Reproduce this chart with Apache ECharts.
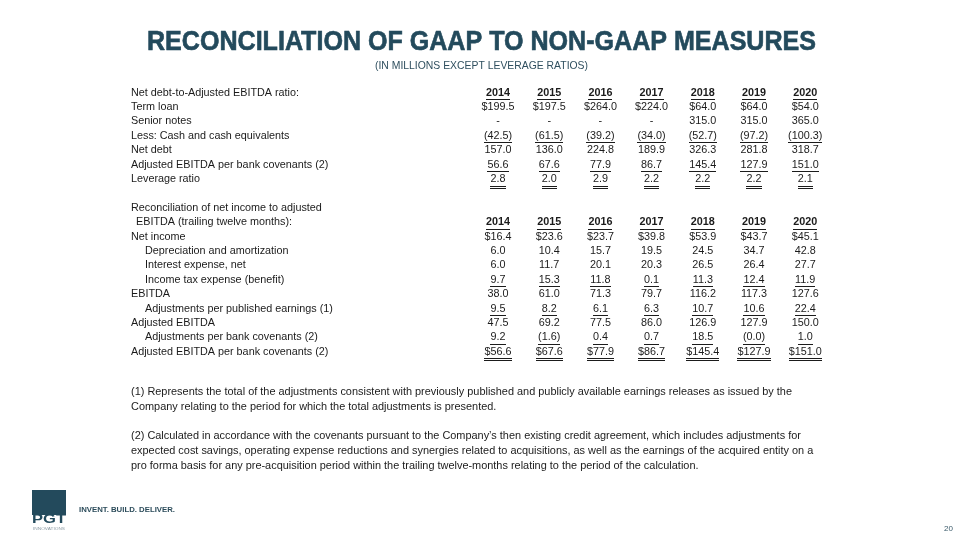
<!DOCTYPE html>
<html><head><meta charset="utf-8">
<script src="https://cdn.jsdelivr.net/npm/echarts@6/dist/echarts.min.js"></script>
<style>html,body{margin:0;padding:0;background:#fff}#c{width:960px;height:540px}</style>
</head><body><div id="c"></div>
<script>
// ---------------- DATA ----------------
const years = ['2014', '2015', '2016', '2017', '2018', '2019', '2020'];

const rowLabels = [
  'Net debt-to-Adjusted EBITDA ratio:',
  'Term loan',
  'Senior notes',
  'Less: Cash and cash equivalents',
  'Net debt',
  'Adjusted EBITDA per bank covenants (2)',
  'Leverage ratio',
  '',
  'Reconciliation of net income to adjusted',
  'EBITDA (trailing twelve months):',
  'Net income',
  'Depreciation and amortization',
  'Interest expense, net',
  'Income tax expense (benefit)',
  'EBITDA',
  'Adjustments per published earnings (1)',
  'Adjusted EBITDA',
  'Adjustments per bank covenants (2)',
  'Adjusted EBITDA per bank covenants (2)'
];

const termLoan        = [199.5, 197.5, 264.0, 224.0, 64.0, 64.0, 54.0];
const seniorNotes     = [null, null, null, null, 315.0, 315.0, 365.0];
const cashEquivalents = [-42.5, -61.5, -39.2, -34.0, -52.7, -97.2, -100.3];
const netDebt         = [157.0, 136.0, 224.8, 189.9, 326.3, 281.8, 318.7];
const adjEbitdaBank   = [56.6, 67.6, 77.9, 86.7, 145.4, 127.9, 151.0];
const leverageRatio   = [2.8, 2.0, 2.9, 2.2, 2.2, 2.2, 2.1];

const netIncome       = [16.4, 23.6, 23.7, 39.8, 53.9, 43.7, 45.1];
const depreciation    = [6.0, 10.4, 15.7, 19.5, 24.5, 34.7, 42.8];
const interestExpense = [6.0, 11.7, 20.1, 20.3, 26.5, 26.4, 27.7];
const incomeTax       = [9.7, 15.3, 11.8, 0.1, 11.3, 12.4, 11.9];
const ebitda          = [38.0, 61.0, 71.3, 79.7, 116.2, 117.3, 127.6];
const adjPublished    = [9.5, 8.2, 6.1, 6.3, 10.7, 10.6, 22.4];
const adjEbitda       = [47.5, 69.2, 77.5, 86.0, 126.9, 127.9, 150.0];
const adjBank         = [9.2, -1.6, 0.4, 0.7, 18.5, -0.0, 1.0];
const adjEbitdaBankTotal = [56.6, 67.6, 77.9, 86.7, 145.4, 127.9, 151.0];

const footnotes = [
  '(1) Represents the total of the adjustments consistent with previously published and publicly available earnings releases as issued by the',
  'Company relating to the period for which the total adjustments is presented.',
  '(2) Calculated in accordance with the covenants pursuant to the Company\u2019s then existing credit agreement, which includes adjustments for',
  'expected cost savings, operating expense reductions and synergies related to acquisitions, as well as the earnings of the acquired entity on a',
  'pro forma basis for any pre-acquisition period within the trailing twelve-months relating to the period of the calculation.'
];

// ---------------- ROW SETUP (row index -> series + formatting) ----------------
// u: underline count, d: dollar sign
const tableRows = [
  { row: 0,  header: true },
  { row: 1,  values: termLoan, d: true },
  { row: 2,  values: seniorNotes },
  { row: 3,  values: cashEquivalents, u: 1 },
  { row: 4,  values: netDebt },
  { row: 5,  values: adjEbitdaBank, u: 1 },
  { row: 6,  values: leverageRatio, u: 2 },
  { row: 9,  header: true },
  { row: 10, values: netIncome, d: true },
  { row: 11, values: depreciation },
  { row: 12, values: interestExpense },
  { row: 13, values: incomeTax, u: 1 },
  { row: 14, values: ebitda },
  { row: 15, values: adjPublished, u: 1 },
  { row: 16, values: adjEbitda },
  { row: 17, values: adjBank, u: 1 },
  { row: 18, values: adjEbitdaBankTotal, d: true, u: 2 }
];
const labelIndent = { 9: 5, 11: 14, 12: 14, 13: 14, 15: 14, 17: 14 };

// ---------------- HELPERS ----------------
const FONT = '"Liberation Sans", Arial, sans-serif';
const INK = '#1b1b1b';
const TEAL = '#234a5c';
const cv = document.createElement('canvas').getContext('2d');
function measure(text, size, weight) {
  cv.font = (weight || 'normal') + ' ' + size + 'px ' + FONT;
  return cv.measureText(text).width;
}
function fmt(v, dollar) {
  if (v === null || v === undefined) return '-';
  const neg = v < 0 || Object.is(v, -0);
  let s = Math.abs(v).toFixed(1);
  if (dollar) s = '$' + s;
  return neg ? '(' + s + ')' : s;
}

// table font size fitted to the reference label width
const FS = Math.round(11 * 198 / measure('Adjusted EBITDA per bank covenants (2)', 11) * 10) / 10;

const cells = [];
tableRows.forEach(r => {
  years.forEach((y, i) => {
    if (r.header) cells.push({ value: [i, r.row], text: y, bold: true, u: 1 });
    else cells.push({ value: [i, r.row], text: fmt(r.values[i], r.d), bold: false, u: r.u || 0 });
  });
});

// ---------------- CHART ----------------
const chart = echarts.init(document.getElementById('c'), null, { renderer: 'canvas' });

const gridLeft = 472.4, colW = 51.2, gridTop = 85.5, rowH = 14.4;
const labelX = 131;

function scaledText(text, x, y, size, weight, target, fill, align, stroke) {
  const w = measure(text, size, weight);
  const st = { text: text, fontSize: size, fontWeight: weight, fontFamily: FONT, fill: fill,
               align: align, verticalAlign: 'middle' };
  if (stroke) { st.stroke = fill; st.lineWidth = stroke; }
  return { type: 'text', x: x, y: y, scaleX: target / w, scaleY: 1, style: st };
}
const fnScale = 661 / measure(footnotes[0], 11, 'normal');
const fnY = [392, 407, 436, 451, 465.5];
const footGraphics = footnotes.map((t, i) => ({
  type: 'text', x: labelX, y: fnY[i], scaleX: fnScale, scaleY: 1,
  style: { text: t, fontSize: 11, fontFamily: FONT, fill: INK, align: 'left', verticalAlign: 'middle' }
}));

const option = {
  animation: false,
  backgroundColor: '#ffffff',
  grid: { left: gridLeft, top: gridTop, width: colW * years.length, height: rowH * rowLabels.length },
  xAxis: {
    type: 'category', data: years, boundaryGap: true,
    axisLine: { show: false }, axisTick: { show: false }, axisLabel: { show: false }, splitLine: { show: false }
  },
  yAxis: {
    type: 'category', inverse: true, boundaryGap: true,
    data: rowLabels.map((_, i) => String(i)),
    axisLine: { show: false }, axisTick: { show: false }, splitLine: { show: false },
    axisLabel: {
      show: true, interval: 0, align: 'left', margin: gridLeft - labelX,
      formatter: (v, idx) => {
        const t = rowLabels[idx];
        if (!t) return '';
        const ind = labelIndent[idx];
        return ind === 14 ? '{b|' + t + '}' : ind === 5 ? '{c|' + t + '}' : '{a|' + t + '}';
      },
      rich: {
        a: { fontSize: FS, fontFamily: FONT, color: INK },
        b: { fontSize: FS, fontFamily: FONT, color: INK, padding: [0, 0, 0, 14] },
        c: { fontSize: FS, fontFamily: FONT, color: INK, padding: [0, 0, 0, 5] }
      }
    }
  },
  series: [{
    type: 'custom',
    coordinateSystem: 'cartesian2d',
    encode: { x: 0, y: 1 },
    data: cells,
    renderItem: (params, api) => {
      const c = cells[params.dataIndex];
      const p = api.coord([api.value(0), api.value(1)]);
      const weight = c.bold ? 'bold' : 'normal';
      const w = measure(c.text, FS, weight);
      const kids = [{
        type: 'text', x: p[0], y: p[1],
        style: { text: c.text, fontSize: FS, fontWeight: weight, fontFamily: FONT, fill: INK,
                 align: 'center', verticalAlign: 'middle' }
      }];
      const x1 = Math.round(p[0] - w / 2), x2 = Math.round(p[0] + w / 2);
      if (c.u >= 1 && c.text !== '-') {
        const yy = Math.round(p[1] + 6.5) + 0.5;
        kids.push({ type: 'line', shape: { x1: x1, y1: yy, x2: x2, y2: yy }, style: { stroke: INK, lineWidth: 1 } });
        if (c.u === 2) {
          kids.push({ type: 'line', shape: { x1: x1, y1: yy + 2, x2: x2, y2: yy + 2 }, style: { stroke: INK, lineWidth: 1 } });
        }
      }
      return { type: 'group', children: kids };
    }
  }],
  graphic: [
    scaledText('RECONCILIATION OF GAAP TO NON-GAAP MEASURES', 481.5, 43, 27, 'bold', 669, TEAL, 'center', 0.6),
    scaledText('(IN MILLIONS EXCEPT LEVERAGE RATIOS)', 481.5, 65.5, 11.5, 'normal', 213, '#2f4f5f', 'center'),
    ...footGraphics,
    { type: 'rect', shape: { x: 32, y: 490, width: 34, height: 25 }, style: { fill: TEAL } },
    scaledText('PGT', 49, 519.5, 13, 'bold', 34, TEAL, 'center'),
    scaledText('INNOVATIONS', 49, 529, 4, 'normal', 32, '#8a9aa3', 'center'),
    scaledText('INVENT. BUILD. DELIVER.', 79, 510, 7.5, 'bold', 96, '#2b4b5a', 'left'),
    { type: 'text', x: 944, y: 529, style: { text: '20', fontSize: 8, fontFamily: FONT, fill: '#3a5a6a', align: 'left', verticalAlign: 'middle' } }
  ]
};
chart.setOption(option);
</script>
</body></html>
